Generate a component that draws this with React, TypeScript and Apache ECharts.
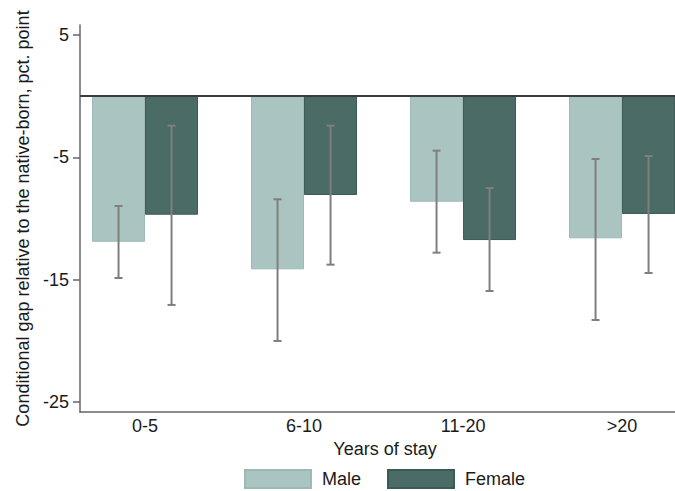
import React, { useEffect, useRef } from "react";
import * as echarts from "echarts";

const categories = ["0-5", "6-10", "11-20", ">20"];
const maleValues = [-11.9, -14.15, -8.63, -11.62];
const femaleValues = [-9.69, -8.08, -11.76, -9.63];
const maleLow = [-14.86, -20.0, -12.79, -18.29];
const maleHigh = [-8.98, -8.43, -4.46, -5.14];
const femaleLow = [-17.06, -13.77, -15.92, -14.45];
const femaleHigh = [-2.42, -2.42, -7.51, -4.9];
const yTicks = [-25, -15, -5, 5];

const FONT = "'Liberation Sans', Arial, sans-serif";
const BAR_W = 53;
const MALE_COLOR = "#aac5c1";
const FEMALE_COLOR = "#4a6b66";

export default function App() {
  const ref = useRef<HTMLDivElement>(null);
  useEffect(() => {
    if (!ref.current) return;
    const chart = echarts.init(ref.current, null, { renderer: "svg" });
    const xs = categories.map((_, i) => i + 1);

    const errRender = (offset: number) => (params: any, api: any) => {
      const x = api.value(0);
      const lo = api.coord([x, api.value(1)]);
      const hi = api.coord([x, api.value(2)]);
      const px = lo[0] + offset;
      const style = { stroke: "#7f7f7f", lineWidth: 2 };
      return {
        type: "group",
        children: [
          { type: "line", shape: { x1: px, y1: lo[1], x2: px, y2: hi[1] }, style },
          { type: "line", shape: { x1: px - 4, y1: lo[1], x2: px + 4, y2: lo[1] }, style },
          { type: "line", shape: { x1: px - 4, y1: hi[1], x2: px + 4, y2: hi[1] }, style },
        ],
      };
    };

    chart.setOption({
      animation: false,
      textStyle: { fontFamily: FONT },
      grid: { left: 80, right: 0, top: 25, bottom: 79 },
      xAxis: {
        type: "value",
        min: 0.591,
        max: 4.333,
        axisLine: { show: true, onZero: false, lineStyle: { color: "#666", width: 1.5 } },
        axisTick: { show: false },
        axisLabel: {
          customValues: xs,
          formatter: (v: number) => categories[Math.round(v) - 1] ?? "",
          color: "#1a1a1a",
          fontSize: 18,
          margin: 5,
          fontFamily: FONT,
        },
        splitLine: { show: false },
        name: "Years of stay",
        nameLocation: "middle",
        nameGap: 17,
        nameTextStyle: { color: "#1a1a1a", fontSize: 18, fontFamily: FONT, padding: [0, 0, 0, 15] },
      },
      yAxis: {
        type: "value",
        min: -25.8,
        max: 5.8,
        axisLine: { show: true, lineStyle: { color: "#666", width: 1.5 } },
        axisTick: { show: true, length: 7, customValues: yTicks, lineStyle: { color: "#666", width: 1.5 } },
        axisLabel: { customValues: yTicks, color: "#1a1a1a", fontSize: 18, margin: 11, fontFamily: FONT },
        splitLine: { show: false },
        name: "Conditional gap relative to the native-born, pct. point",
        nameLocation: "middle",
        nameGap: 48,
        nameTextStyle: { color: "#1a1a1a", fontSize: 18, fontFamily: FONT },
      },
      legend: {
        left: 244,
        top: 469,
        padding: 0,
        itemWidth: 66,
        itemHeight: 18,
        itemGap: 26,
        icon: "rect",
        textStyle: { color: "#1a1a1a", fontSize: 18, fontFamily: FONT, padding: [0, 0, 0, 6] },
        data: ["Male", "Female"],
      },
      series: [
        {
          name: "Male",
          type: "bar",
          barWidth: BAR_W,
          barGap: "0%",
          data: xs.map((x, i) => [x, maleValues[i]]),
          itemStyle: { color: MALE_COLOR, borderColor: "#9db9b5", borderWidth: 1 },
          markLine: {
            silent: true,
            symbol: "none",
            label: { show: false },
            lineStyle: { color: "#3c3c3c", width: 2, type: "solid" },
            data: [{ yAxis: 0 }],
            z: 10,
          },
        },
        {
          name: "Female",
          type: "bar",
          barWidth: BAR_W,
          barGap: "0%",
          data: xs.map((x, i) => [x, femaleValues[i]]),
          itemStyle: { color: FEMALE_COLOR, borderColor: "#3a5a55", borderWidth: 1 },
        },
        {
          type: "custom",
          z: 5,
          renderItem: errRender(-BAR_W / 2),
          data: xs.map((x, i) => [x, maleLow[i], maleHigh[i]]),
          encode: { x: 0, y: [1, 2] },
        },
        {
          type: "custom",
          z: 5,
          renderItem: errRender(BAR_W / 2),
          data: xs.map((x, i) => [x, femaleLow[i], femaleHigh[i]]),
          encode: { x: 0, y: [1, 2] },
        },
      ],
    });
    return () => chart.dispose();
  }, []);
  return (
    <div
      ref={ref}
      style={{ position: "absolute", left: 0, top: 0, width: 675, height: 491, background: "#fff" }}
    />
  );
}
